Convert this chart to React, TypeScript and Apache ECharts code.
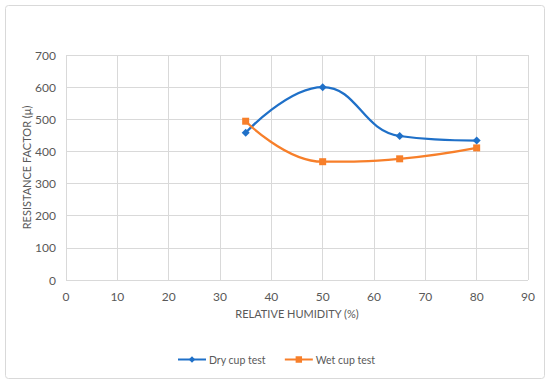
import React, { useEffect, useRef } from "react";
import * as echarts from "echarts";

const humidity = [35, 50, 65, 80];
const dryCup = [458, 600, 448, 434];
const wetCup = [494, 368, 377, 411];
const seriesNames = ["Dry cup test", "Wet cup test"];

export default function App() {
  const ref = useRef<HTMLDivElement>(null);
  useEffect(() => {
    if (!ref.current) return;
    const chart = echarts.init(ref.current, null, { renderer: "svg" });
    const font = "Lato, 'Open Sans', sans-serif";
    chart.setOption({
      animation: false,
      textStyle: { fontFamily: font },
      graphic: [
        {
          type: "rect",
          shape: { x: 5.5, y: 5.5, width: 539, height: 373, r: 3 },
          style: { fill: "#fff", stroke: "#d9d9d9", lineWidth: 1 },
          z: -10,
        },
      ],
      grid: { left: 66, right: 22, top: 55, bottom: 106 },
      legend: {
        bottom: 16,
        left: 172,
        itemGap: 18,
        itemWidth: 28,
        itemHeight: 8,
        textStyle: { color: "#595959", fontSize: 10.5, fontFamily: font, padding: [0, 0, 0, -2] },
        data: seriesNames,
      },
      xAxis: {
        type: "value",
        min: 0,
        max: 90,
        interval: 10,
        name: "RELATIVE HUMIDITY (%)",
        nameLocation: "middle",
        nameGap: 28,
        nameMoveOverlap: false,
        nameTextStyle: { color: "#595959", fontSize: 11 },
        axisLine: { show: false },
        axisTick: { show: false },
        axisLabel: { color: "#595959", fontSize: 12, margin: 10 },
        splitLine: { show: true, lineStyle: { color: "#d9d9d9" } },
      },
      yAxis: {
        type: "value",
        min: 0,
        max: 700,
        interval: 100,
        name: "RESISTANCE FACTOR (\u03bc)",
        nameLocation: "middle",
        nameGap: 34,
        nameMoveOverlap: false,
        nameTextStyle: { color: "#595959", fontSize: 11 },
        axisLine: { show: false },
        axisTick: { show: false },
        axisLabel: { color: "#595959", fontSize: 12, margin: 10 },
        splitLine: { show: true, lineStyle: { color: "#d9d9d9" } },
      },
      series: [
        {
          name: seriesNames[0],
          type: "line",
          smooth: 0.45,
          data: humidity.map((h, i) => [h, dryCup[i]]),
          symbol: "diamond",
          symbolSize: 8,
          itemStyle: { color: "#1f70c8" },
          lineStyle: { width: 2.25, color: "#1f70c8" },
        },
        {
          name: seriesNames[1],
          type: "line",
          smooth: 0.45,
          data: humidity.map((h, i) => [h, wetCup[i]]),
          symbol: "rect",
          symbolSize: 7,
          itemStyle: { color: "#f77f2a" },
          lineStyle: { width: 2.25, color: "#f77f2a" },
        },
      ],
    });
    return () => chart.dispose();
  }, []);
  return <div ref={ref} style={{ width: 550, height: 386, position: "absolute", left: 0, top: 0 }} />;
}
